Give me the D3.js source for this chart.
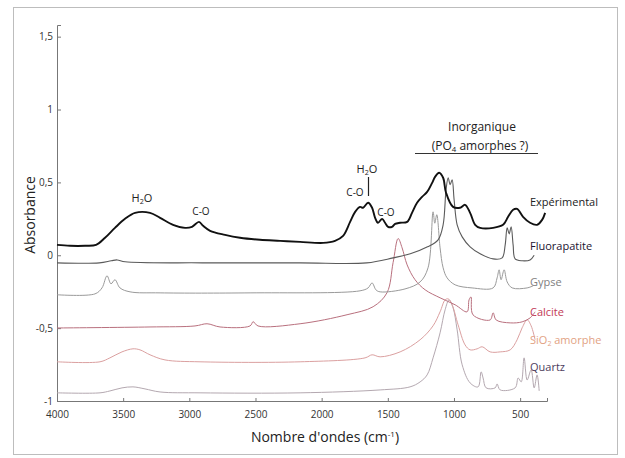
<!DOCTYPE html>
<html>
<head>
<meta charset="utf-8">
<script src="https://cdn.jsdelivr.net/npm/d3@7"></script>
<style>
  body { margin: 0; background: #fff; }
  text { font-family: "Open Sans", "Noto Sans", sans-serif; }
</style>
</head>
<body>
<div id="canvas"></div>
<script>
// spectra: [wavenumber cm-1, absorbance]
var experimental = [[4000,0.071],[3902,0.065],[3788,0.065],[3705,0.071],[3637,0.120],[3562,0.188],[3486,0.250],[3410,0.291],[3297,0.291],[3221,0.257],[3123,0.209],[3032,0.188],[2980,0.195],[2927,0.229],[2896,0.202],[2843,0.168],[2730,0.140],[2617,0.120],[2466,0.106],[2314,0.099],[2163,0.092],[1989,0.085],[1899,0.099],[1838,0.133],[1785,0.229],[1747,0.298],[1710,0.332],[1687,0.326],[1649,0.360],[1619,0.326],[1596,0.257],[1574,0.223],[1543,0.250],[1521,0.223],[1498,0.195],[1468,0.195],[1445,0.215],[1407,0.223],[1354,0.229],[1317,0.291],[1279,0.360],[1241,0.401],[1203,0.435],[1165,0.497],[1143,0.538],[1112,0.566],[1082,0.532],[1060,0.429],[1007,0.332],[954,0.326],[916,0.346],[878,0.291],[840,0.209],[802,0.188],[704,0.188],[629,0.209],[591,0.264],[553,0.312],[523,0.318],[478,0.264],[425,0.223],[372,0.209],[334,0.243],[311,0.291]];

var fluorapatite = [[4000,-0.052],[3680,-0.052],[3590,-0.038],[3545,-0.032],[3485,-0.045],[2900,-0.052],[2160,-0.052],[1660,-0.052],[1460,-0.018],[1330,0.010],[1200,0.058],[1120,0.106],[1082,0.209],[1060,0.449],[1044,0.532],[1029,0.484],[1014,0.518],[999,0.381],[976,0.209],[938,0.126],[878,0.058],[802,0.010],[704,-0.025],[636,-0.018],[613,0.071],[598,0.188],[583,0.147],[568,0.195],[553,0.071],[538,-0.025],[485,-0.038],[425,-0.032],[394,0.0]];

var gypse = [[4000,-0.271],[3713,-0.265],[3660,-0.224],[3622,-0.141],[3592,-0.196],[3562,-0.168],[3524,-0.224],[3448,-0.251],[3221,-0.258],[2541,-0.258],[1710,-0.244],[1649,-0.224],[1619,-0.190],[1589,-0.238],[1558,-0.251],[1370,-0.231],[1256,-0.183],[1196,-0.086],[1158,0.298],[1145,0.220],[1130,0.278],[1105,0.051],[1082,-0.086],[1052,-0.155],[991,-0.203],[863,-0.224],[704,-0.224],[674,-0.155],[659,-0.100],[644,-0.168],[621,-0.100],[598,-0.183],[560,-0.224],[447,-0.224],[402,-0.210]];

var calcite = [[4000,-0.499],[3297,-0.492],[2957,-0.485],[2866,-0.470],[2768,-0.492],[2541,-0.485],[2518,-0.456],[2481,-0.485],[2163,-0.470],[1808,-0.408],[1611,-0.353],[1506,-0.257],[1460,-0.050],[1422,0.115],[1392,0.051],[1354,-0.066],[1294,-0.168],[1218,-0.237],[1105,-0.292],[991,-0.340],[901,-0.388],[886,-0.306],[871,-0.286],[856,-0.409],[727,-0.444],[704,-0.395],[681,-0.444],[575,-0.464],[485,-0.457],[425,-0.430],[387,-0.388]];

var sio2 = [[4000,-0.731],[3675,-0.731],[3600,-0.704],[3509,-0.663],[3426,-0.642],[3373,-0.649],[3297,-0.683],[3184,-0.718],[2919,-0.731],[2163,-0.731],[1672,-0.704],[1619,-0.683],[1558,-0.697],[1407,-0.663],[1256,-0.580],[1158,-0.484],[1105,-0.388],[1067,-0.306],[1044,-0.299],[1014,-0.340],[969,-0.477],[916,-0.615],[878,-0.649],[825,-0.642],[787,-0.628],[727,-0.663],[651,-0.663],[575,-0.649],[523,-0.580],[485,-0.498],[447,-0.443],[417,-0.484],[387,-0.580]];

var quartz = [[4000,-0.944],[3675,-0.944],[3600,-0.931],[3509,-0.910],[3426,-0.903],[3335,-0.917],[3221,-0.938],[2919,-0.944],[2163,-0.944],[1558,-0.924],[1332,-0.903],[1256,-0.869],[1203,-0.821],[1158,-0.704],[1105,-0.532],[1067,-0.374],[1037,-0.306],[1007,-0.360],[976,-0.512],[938,-0.752],[878,-0.876],[818,-0.903],[795,-0.800],[780,-0.842],[757,-0.910],[689,-0.910],[674,-0.883],[651,-0.924],[538,-0.910],[515,-0.842],[492,-0.869],[470,-0.704],[447,-0.856],[417,-0.787],[394,-0.910],[372,-0.821],[356,-0.931]];

var xTicks = [4000, 3500, 3000, 2500, 2000, 1500, 1000, 500];
var yTicks = [-1, -0.5, 0, 0.5, 1, 1.5];

var W = 625, H = 458;

var svg = d3.select("#canvas").append("svg")
    .attr("width", W)
    .attr("height", H);

// scanned-figure frame
svg.append("rect")
    .attr("x", 13.5).attr("y", 7.5)
    .attr("width", 604).attr("height", 447)
    .attr("fill", "#fff")
    .attr("stroke", "#bdbdbd");

var x = d3.scaleLinear().domain([4000, 297]).range([57, 547]);
var y = d3.scaleLinear().domain([-1, 1.58]).range([401, 25]);

var fmt = function (d) { return String(d).replace(".", ","); };

var gx = svg.append("g")
    .attr("transform", "translate(0,401)")
    .call(d3.axisBottom(x).tickValues(xTicks).tickSize(-3).tickPadding(10).tickFormat(d3.format("d")));
var gy = svg.append("g")
    .attr("transform", "translate(57,0)")
    .call(d3.axisLeft(y).tickValues(yTicks).tickSize(-4).tickPadding(4).tickFormat(fmt));

[gx, gy].forEach(function (g) {
    g.select(".domain").attr("stroke", "#777");
    g.selectAll(".tick line").attr("stroke", "#777");
    g.selectAll(".tick text")
        .attr("fill", "#333")
        .attr("font-size", "10px")
        .attr("font-family", "'Open Sans', sans-serif");
});

var line = d3.line()
    .x(function (d) { return x(d[0]); })
    .y(function (d) { return y(d[1]); })
    .curve(d3.curveCatmullRom.alpha(0.5));

var spectra = [
    { data: quartz, color: "#b4a8b0", w: 1 },
    { data: sio2, color: "#dba0a0", w: 1 },
    { data: calcite, color: "#b9707e", w: 1 },
    { data: gypse, color: "#9a9a9a", w: 1 },
    { data: fluorapatite, color: "#5a5a5a", w: 1.1 },
    { data: experimental, color: "#111", w: 1.9 }
];

svg.selectAll("path.spec")
    .data(spectra).enter()
    .append("path")
    .attr("class", "spec")
    .attr("d", function (d) { return line(d.data); })
    .attr("fill", "none")
    .attr("stroke", function (d) { return d.color; })
    .attr("stroke-width", function (d) { return d.w; })
    .attr("stroke-linejoin", "round");

// series labels
var labels = [
    { t: "Expérimental", y: 206, c: "#222" },
    { t: "Fluorapatite", y: 250, c: "#1c1430" },
    { t: "Gypse", y: 286, c: "#808080" },
    { t: "Calcite", y: 316, c: "#c23a55" },
    { t: "SiO", y: 344, c: "#e2a283", sub: "2", rest: " amorphe" },
    { t: "Quartz", y: 371, c: "#4c3c5c" }
];
labels.forEach(function (l) {
    var t = svg.append("text")
        .attr("x", 530).attr("y", l.y)
        .attr("font-size", "11px")
        .attr("fill", l.c)
        .text(l.t);
    if (l.sub) {
        t.append("tspan").attr("font-size", "7px").attr("dy", 2).text(l.sub);
        t.append("tspan").attr("dy", -2).text(l.rest);
    }
});

// band annotations
function chem(xc, yb, pre, sub, post, size) {
    var t = svg.append("text")
        .attr("x", xc).attr("y", yb)
        .attr("text-anchor", "middle")
        .attr("font-size", size + "px")
        .attr("fill", "#222")
        .text(pre);
    if (sub) {
        t.append("tspan").attr("font-size", (size * 0.65) + "px").attr("dy", 2).text(sub);
        t.append("tspan").attr("dy", -2).text(post);
    }
}
chem(142, 202, "H", "2", "O", 11);
chem(201, 215, "C-O", null, null, 10);
chem(367, 173, "H", "2", "O", 11);
chem(355, 196, "C-O", null, null, 10);
chem(386, 216, "C-O", null, null, 10);
svg.append("line")
    .attr("x1", 368.5).attr("x2", 368.5)
    .attr("y1", 177).attr("y2", 196)
    .attr("stroke", "#222").attr("stroke-width", 1.2);

chem(482, 131, "Inorganique", null, null, 12);
chem(480, 150, "(PO", "4", " amorphes ?)", 12);
svg.append("line")
    .attr("x1", 415).attr("x2", 538)
    .attr("y1", 153.5).attr("y2", 153.5)
    .attr("stroke", "#333").attr("stroke-width", 1);

// axis titles
svg.append("text")
    .attr("transform", "translate(35,215) rotate(-90)")
    .attr("text-anchor", "middle")
    .attr("font-size", "14px")
    .attr("fill", "#222")
    .text("Absorbance");

var xt = svg.append("text")
    .attr("x", 325).attr("y", 442)
    .attr("text-anchor", "middle")
    .attr("font-size", "14px")
    .attr("fill", "#222")
    .text("Nombre d'ondes (cm");
xt.append("tspan").attr("font-size", "8px").attr("dy", -5).text("-1");
xt.append("tspan").attr("dy", 5).text(")");
</script>
</body>
</html>
